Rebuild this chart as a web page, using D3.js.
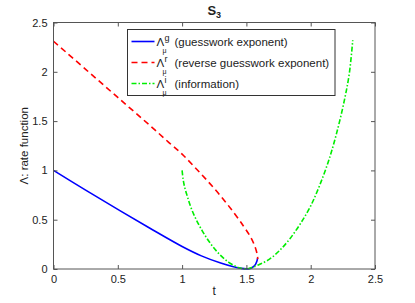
<!DOCTYPE html>
<html>
<head>
<meta charset="utf-8">
<script src="https://cdn.jsdelivr.net/npm/d3@7"></script>
<style>
	body { margin: 0; background: #fff; }
	svg text { font-family: "Liberation Sans", Arial, sans-serif; fill: #222; }
</style>
</head>
<body>
<div id="chart"></div>
<script>
var tickVals = [0, 0.5, 1, 1.5, 2, 2.5];

var blueT = [0, 0.25, 0.5, 0.75, 1.0, 1.15, 1.3, 1.4, 1.46, 1.5, 1.53, 1.555, 1.572, 1.582, 1.587];
var blueV = [1.0, 0.80, 0.605, 0.413, 0.228, 0.133, 0.06, 0.022, 0.006, 0.001, 0.006, 0.025, 0.05, 0.08, 0.11];

var redT = [0, 0.25, 0.5, 0.75, 0.9, 1.0, 1.1, 1.2, 1.3, 1.4, 1.48, 1.53, 1.56, 1.578, 1.586, 1.588];
var redV = [2.31, 2.025, 1.74, 1.455, 1.28, 1.165, 1.03, 0.89, 0.74, 0.575, 0.43, 0.33, 0.25, 0.18, 0.135, 0.1];

var greenT = [1.0, 1.008, 1.02, 1.04, 1.07, 1.11, 1.16, 1.22, 1.29, 1.36, 1.42, 1.46, 1.49, 1.53, 1.6, 1.68, 1.76, 1.84, 1.92, 2.0, 2.07, 2.14, 2.2, 2.26, 2.3, 2.327];
var greenV = [1.0, 0.91, 0.83, 0.74, 0.62, 0.5, 0.38, 0.26, 0.15, 0.07, 0.025, 0.007, 0.001, 0.01, 0.045, 0.1, 0.19, 0.31, 0.46, 0.64, 0.85, 1.1, 1.37, 1.7, 1.98, 2.32];

var series = [
	{ t: blueT, v: blueV, color: "#0000ff", dash: null, sup: "g", label: "(guesswork exponent)" },
	{ t: redT, v: redV, color: "#ff0000", dash: "6,4", sup: "r", label: "(reverse guesswork exponent)" },
	{ t: greenT, v: greenV, color: "#00ee00", dash: "5,2,1.5,2", sup: "i", label: "(information)" }
];

var dims = { width: 415, height: 303, margin: { top: 22.5, right: 40, bottom: 34, left: 53.5 } };
var x0 = dims.margin.left, x1 = dims.width - dims.margin.right;
var y0 = dims.height - dims.margin.bottom, y1 = dims.margin.top;

var x = d3.scaleLinear().domain([0, 2.5]).range([x0, x1]);
var y = d3.scaleLinear().domain([0, 2.5]).range([y0, y1]);

var svg = d3.select("#chart").append("svg")
	.attr("width", dims.width)
	.attr("height", dims.height);

// curves first, frame on top
var line = d3.line()
	.x(function(d) { return x(d[0]); })
	.y(function(d) { return y(d[1]); })
	.curve(d3.curveCatmullRom.alpha(0.5));

svg.append("defs").append("clipPath").attr("id", "clip")
	.append("rect").attr("x", x0).attr("y", y1).attr("width", x1 - x0).attr("height", y0 - y1 + 1);

var plot = svg.append("g").attr("clip-path", "url(#clip)");
series.forEach(function(s) {
	var pts = s.t.map(function(t, i) { return [t, s.v[i]]; });
	plot.append("path")
		.attr("d", line(pts))
		.attr("fill", "none")
		.attr("stroke", s.color)
		.attr("stroke-width", 1.6)
		.attr("stroke-dasharray", s.dash);
});

var axisColor = "#555";
var tickLen = 4;

function styleAxis(g) {
	g.select(".domain").remove();
	g.selectAll(".tick line").attr("stroke", axisColor);
	g.selectAll(".tick text").attr("font-size", 11).attr("fill", "#222");
}

svg.append("g").attr("transform", "translate(0," + y0 + ")")
	.call(d3.axisBottom(x).tickValues(tickVals).tickFormat(d3.format("")).tickSizeInner(-tickLen).tickPadding(6))
	.call(styleAxis);
svg.append("g").attr("transform", "translate(0," + y1 + ")")
	.call(d3.axisTop(x).tickValues(tickVals).tickFormat("").tickSizeInner(-tickLen))
	.call(styleAxis);
svg.append("g").attr("transform", "translate(" + x0 + ",0)")
	.call(d3.axisLeft(y).tickValues(tickVals).tickFormat(d3.format("")).tickSizeInner(-tickLen).tickPadding(6))
	.call(styleAxis);
svg.append("g").attr("transform", "translate(" + x1 + ",0)")
	.call(d3.axisRight(y).tickValues(tickVals).tickFormat("").tickSizeInner(-tickLen))
	.call(styleAxis);

svg.append("rect")
	.attr("x", x0).attr("y", y1)
	.attr("width", x1 - x0).attr("height", y0 - y1)
	.attr("fill", "none").attr("stroke", axisColor).attr("stroke-width", 1);

// title and axis labels
var title = svg.append("text")
	.attr("x", (x0 + x1) / 2).attr("y", 15)
	.attr("text-anchor", "middle")
	.attr("font-size", 13).attr("font-weight", "bold");
title.append("tspan").text("S");
title.append("tspan").attr("font-size", 9).attr("dy", 3).text("3");

svg.append("text")
	.attr("x", (x0 + x1) / 2).attr("y", 295)
	.attr("text-anchor", "middle")
	.attr("font-size", 12)
	.text("t");

svg.append("text")
	.attr("transform", "translate(28," + ((y0 + y1) / 2) + ") rotate(-90)")
	.attr("text-anchor", "middle")
	.attr("font-size", 11.5)
	.text("\u039B: rate function");

// legend
var lg = { x: 127.5, y: 29.5, w: 207.5, h: 66, rowH: 21 };
var legend = svg.append("g");
legend.append("rect")
	.attr("x", lg.x).attr("y", lg.y)
	.attr("width", lg.w).attr("height", lg.h)
	.attr("fill", "#fff").attr("stroke", "#333").attr("stroke-width", 1);

series.forEach(function(s, i) {
	var cy = lg.y + 12 + i * lg.rowH;
	legend.append("line")
		.attr("x1", lg.x + 4).attr("x2", lg.x + 27)
		.attr("y1", cy).attr("y2", cy)
		.attr("stroke", s.color).attr("stroke-width", 1.6)
		.attr("stroke-dasharray", s.dash);
	legend.append("text")
		.attr("x", lg.x + 29).attr("y", cy + 4)
		.attr("font-size", 11.5)
		.text("\u039B");
	legend.append("text")
		.attr("x", lg.x + 37).attr("y", cy - 1)
		.attr("font-size", 9)
		.text(s.sup);
	legend.append("text")
		.attr("x", lg.x + 35).attr("y", cy + 11)
		.attr("font-size", 7)
		.text("\u03BC");
	legend.append("text")
		.attr("x", lg.x + 47).attr("y", cy + 4)
		.attr("font-size", 11.5)
		.text(s.label);
});
</script>
</body>
</html>
